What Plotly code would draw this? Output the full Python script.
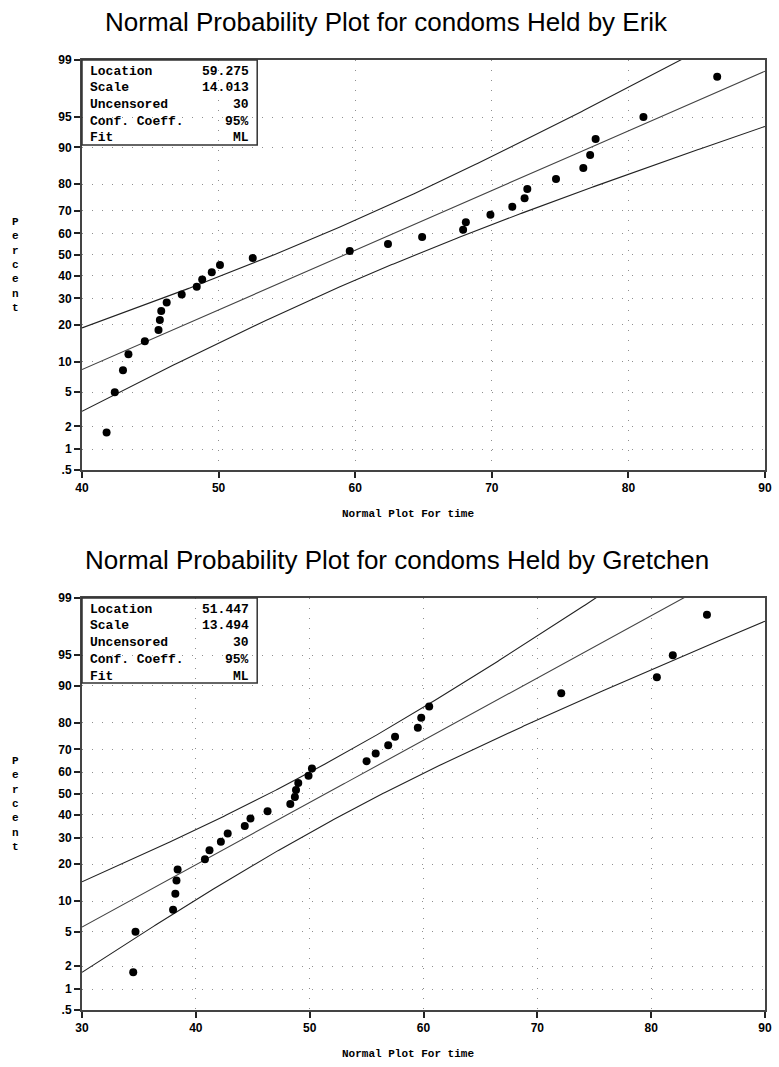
import numpy as np
import plotly.graph_objects as go
from statistics import NormalDist

ND = NormalDist()

# ---------------- data ----------------
PERCENT = [1.67, 5.0, 8.33, 11.67, 15.0, 18.33, 21.67, 25.0, 28.33, 31.67,
           35.0, 38.33, 41.67, 45.0, 48.33, 51.67, 55.0, 58.33, 61.67, 65.0,
           68.33, 71.67, 75.0, 78.33, 81.67, 85.0, 88.33, 91.67, 95.0, 98.33]

ERIK_TIME = [41.8, 42.4, 43.0, 43.4, 44.6, 45.6, 45.7, 45.8, 46.2, 47.3,
             48.4, 48.8, 49.5, 50.1, 52.5, 59.6, 62.4, 64.9, 67.9, 68.1,
             69.9, 71.5, 72.4, 72.6, 74.7, 76.7, 77.2, 77.6, 81.1, 86.5]

GRETCHEN_TIME = [34.5, 34.7, 38.0, 38.2, 38.3, 38.4, 40.8, 41.2, 42.2, 42.8,
                 44.3, 44.8, 46.3, 48.3, 48.7, 48.8, 49.0, 49.9, 50.2, 55.0,
                 55.8, 56.9, 57.5, 59.5, 59.8, 60.5, 72.1, 80.5, 81.9, 84.9]

ERIK_LOCATION, ERIK_SCALE = 59.275, 14.013
GRETCHEN_LOCATION, GRETCHEN_SCALE = 51.447, 13.494
N_UNCENSORED = 30
CONF_COEFF = 0.95

STAT_LABELS = ["Location", "Scale", "Uncensored", "Conf. Coeff.", "Fit"]
ERIK_STAT_TEXT = ["59.275", "14.013", "30", "95%", "ML"]
GRETCHEN_STAT_TEXT = ["51.447", "13.494", "30", "95%", "ML"]

Y_TICKS = [0.5, 1, 2, 5, 10, 20, 30, 40, 50, 60, 70, 80, 90, 95, 99]
Y_TICK_TEXT = [".5", "1", "2", "5", "10", "20", "30", "40", "50", "60",
               "70", "80", "90", "95", "99"]
ERIK_X_TICKS = [40, 50, 60, 70, 80, 90]
GRETCHEN_X_TICKS = [30, 40, 50, 60, 70, 80, 90]

TITLES = ["Normal Probability Plot for condoms Held by Erik",
          "Normal Probability Plot for condoms Held by Gretchen"]
X_TITLE = "Normal Plot For time"
Y_TITLE = "Percent"

# ---------------- layout geometry (px) ----------------
W, H = 779, 1067
L, R = 82, 772
T, B = 60, 1010
PH = B - T
PW = R - L
P1 = (60, 470)    # top, bottom of panel 1
P2 = (598, 1010)  # top, bottom of panel 2
TITLE_X = [390, 400]


def py(px):
    return (B - px) / PH


def pxx(px):
    return (px - L) / PW


def z(p):
    return ND.inv_cdf(p / 100.0)


zc = ND.inv_cdf(0.5 + CONF_COEFF / 2)
y_range = [z(0.5), z(99)]

MONO = "Liberation Mono"
SANS = "Liberation Sans"

fig = go.Figure()

panels = [
    dict(times=ERIK_TIME, loc=ERIK_LOCATION, scale=ERIK_SCALE, stats=ERIK_STAT_TEXT,
         xt=ERIK_X_TICKS, xa="x", ya="y", box=P1),
    dict(times=GRETCHEN_TIME, loc=GRETCHEN_LOCATION, scale=GRETCHEN_SCALE,
         stats=GRETCHEN_STAT_TEXT, xt=GRETCHEN_X_TICKS, xa="x2", ya="y2", box=P2),
]

annotations = []
shapes = []

for i, pn in enumerate(panels):
    x0, x1 = pn["xt"][0], pn["xt"][-1]
    xs = np.linspace(x0, x1, 400)
    zcen = (xs - pn["loc"]) / pn["scale"]
    half = zc * np.sqrt((1 + zcen ** 2 / 2) / N_UNCENSORED)
    for yy, col in [(zcen + half, "#222"), (zcen, "#444"), (zcen - half, "#222")]:
        fig.add_trace(go.Scatter(x=xs, y=yy, mode="lines", xaxis=pn["xa"], yaxis=pn["ya"],
                                 line=dict(color=col, width=1.1), showlegend=False,
                                 hoverinfo="skip"))
    fig.add_trace(go.Scatter(x=pn["times"], y=[z(p) for p in PERCENT], mode="markers",
                             xaxis=pn["xa"], yaxis=pn["ya"],
                             marker=dict(color="black", size=8, line=dict(width=0)),
                             showlegend=False, cliponaxis=False))

    top, bot = pn["box"]
    # title
    annotations.append(dict(text=TITLES[i], xref="paper", yref="paper",
                            x=pxx(TITLE_X[i]), y=py(top - 38), xanchor="center",
                            yanchor="middle", showarrow=False,
                            font=dict(family=SANS, size=26, color="black")))
    # x title
    annotations.append(dict(text=X_TITLE, xref="paper", yref="paper",
                            x=pxx(411), y=py(bot + 44), xanchor="center", yanchor="middle",
                            showarrow=False,
                            font=dict(family=MONO, size=11, color="black", weight="bold")))
    # y title (stacked letters)
    annotations.append(dict(text="<br>".join(list(Y_TITLE)), xref="paper", yref="paper",
                            x=pxx(15), y=py((top + bot) / 2), xanchor="center",
                            yanchor="middle", showarrow=False, align="center",
                            font=dict(family=MONO, size=11, color="black", weight="bold")))
    # inset stats box
    xd = pn["xa"] + " domain"
    yd = pn["ya"] + " domain"
    ph = bot - top
    shapes.append(dict(type="rect", xref=xd, yref=yd, x0=0, x1=177 / PW,
                       y0=1 - 85 / ph, y1=1, line=dict(color="#333", width=1.5),
                       fillcolor="rgba(0,0,0,0)"))
    for k, (lab, val) in enumerate(zip(STAT_LABELS, pn["stats"])):
        yy = 1 - (11 + 16.75 * k) / ph
        annotations.append(dict(text=lab, xref=xd, yref=yd, x=6 / PW, y=yy,
                                xanchor="left", yanchor="middle", showarrow=False,
                                font=dict(family=MONO, size=13, color="black", weight="bold")))
        annotations.append(dict(text=val, xref=xd, yref=yd, x=171 / PW, y=yy,
                                xanchor="right", yanchor="middle", showarrow=False,
                                font=dict(family=MONO, size=13, color="black", weight="bold")))

axis_common = dict(showline=True, mirror=True, linecolor="#444", linewidth=2,
                   ticks="outside", tickcolor="#222", ticklen=6, tickwidth=1.5,
                   showgrid=True, gridcolor="#8f8f8f", gridwidth=1, griddash="1px,9px",
                   zeroline=False,
                   tickfont=dict(family=SANS, size=12, color="black", weight="bold"))

fig.update_layout(
    width=W, height=H,
    margin=dict(l=L, r=W - R, t=T, b=H - B),
    paper_bgcolor="white", plot_bgcolor="white",
    xaxis=dict(domain=[0, 1], range=[ERIK_X_TICKS[0], ERIK_X_TICKS[-1]],
               tickvals=ERIK_X_TICKS, anchor="y", **axis_common),
    yaxis=dict(domain=[py(P1[1]), py(P1[0])], range=y_range,
               tickvals=[z(p) for p in Y_TICKS], ticktext=Y_TICK_TEXT, anchor="x",
               **axis_common),
    xaxis2=dict(domain=[0, 1], range=[GRETCHEN_X_TICKS[0], GRETCHEN_X_TICKS[-1]],
                tickvals=GRETCHEN_X_TICKS, anchor="y2", **axis_common),
    yaxis2=dict(domain=[py(P2[1]), py(P2[0])], range=y_range,
                tickvals=[z(p) for p in Y_TICKS], ticktext=Y_TICK_TEXT, anchor="x2",
                **axis_common),
    annotations=annotations,
    shapes=shapes,
    showlegend=False,
)

fig.write_html("out.html",
               config={"displayModeBar": False},
               post_script="document.body.style.margin='0';"
                           "document.body.style.overflow='hidden';")
